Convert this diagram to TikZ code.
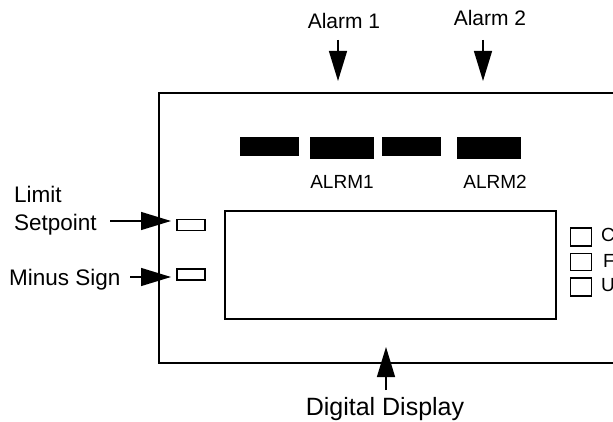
\documentclass[tikz,border=0pt]{standalone}
\usepackage{fontspec}
\setmainfont{Liberation Sans}
\usetikzlibrary{arrows.meta}
\begin{document}
\begin{tikzpicture}[x=1pt,y=-1pt,
  frame/.style={draw=black,line width=1.5pt},
  led/.style={draw=black,line width=1.3pt,fill=white},
  bar/.style={fill=black},
  callout/.style={line width=1.3pt,-{Triangle[length=30pt,width=18pt]}},
  lbl/.style={inner sep=0pt,font=\fontsize{21}{24}\selectfont},
  side/.style={inner sep=0pt,font=\fontsize{22.5}{26}\selectfont},
  small/.style={inner sep=0pt,font=\fontsize{19}{22}\selectfont},
  big/.style={inner sep=0pt,font=\fontsize{25}{28}\selectfont}]
\useasboundingbox (0,0) rectangle (613,422);
% outer housing
\draw[frame] (625,93) -- (159,93) -- (159,363) -- (625,363);
% display window
\node[frame,minimum width=331pt,minimum height=108pt,inner sep=0pt] (disp) at (390.5,265) {};
% bars
\fill[bar] (240,137) rectangle (299,156);
\node[bar,minimum width=64pt,minimum height=22pt,inner sep=0pt] (a1) at (342,148) {};
\fill[bar] (382,137) rectangle (441,156);
\node[bar,minimum width=64pt,minimum height=22pt,inner sep=0pt] (a2) at (489,148) {};
\node[small,anchor=base] (t1) at (342,189) {ALRM1};
\node[small,anchor=base] (t2) at (495,189) {ALRM2};
% small LEDs left
\node[led,minimum width=28pt,minimum height=11pt,inner sep=0pt] (ls) at (191,225) {};
\node[led,minimum width=28pt,minimum height=11pt,inner sep=0pt] (ms) at (191,274.5) {};
% small squares right
\node[led,minimum width=21pt,minimum height=18pt,inner sep=0pt] (s1) at (581,237) {};
\node[led,minimum width=21pt,minimum height=17pt,inner sep=0pt] (s2) at (581,262) {};
\node[led,minimum width=21pt,minimum height=18pt,inner sep=0pt] (s3) at (581,287) {};
\node[small,anchor=base west] (c1) at (601,241) {C};
\node[small,anchor=base west] (c2) at (603,267) {F};
\node[small,anchor=base west] (c3) at (601,291) {U};
% labels
\node[lbl,anchor=base] (al1) at (344,29) {Alarm 1};
\node[lbl,anchor=base] (al2) at (490,26) {Alarm 2};
\node[side,anchor=base west] (lim) at (14,203) {Limit};
\node[side,anchor=base west] (set) at (14,230) {Setpoint};
\node[side,anchor=base west] (min) at (9,285) {Minus Sign};
\node[big,anchor=base] (dd) at (385,415) {Digital Display};
% arrows
\coordinate (al1e) at (338,40);
\coordinate (al1t) at (338,81);
\coordinate (al2e) at (483,40);
\coordinate (al2t) at (483,81);
\coordinate (sete) at (110,221);
\coordinate (sett) at (171,221);
\coordinate (mine) at (130,277);
\coordinate (mint) at (171,277);
\coordinate (dde) at (386,390);
\coordinate (ddt) at (386,347);
\draw[callout] (al1e) -- (al1t);
\draw[callout] (al2e) -- (al2t);
\draw[callout] (sete) -- (sett);
\draw[callout] (mine) -- (mint);
\draw[callout] (dde) -- (ddt);
\end{tikzpicture}
\end{document}
